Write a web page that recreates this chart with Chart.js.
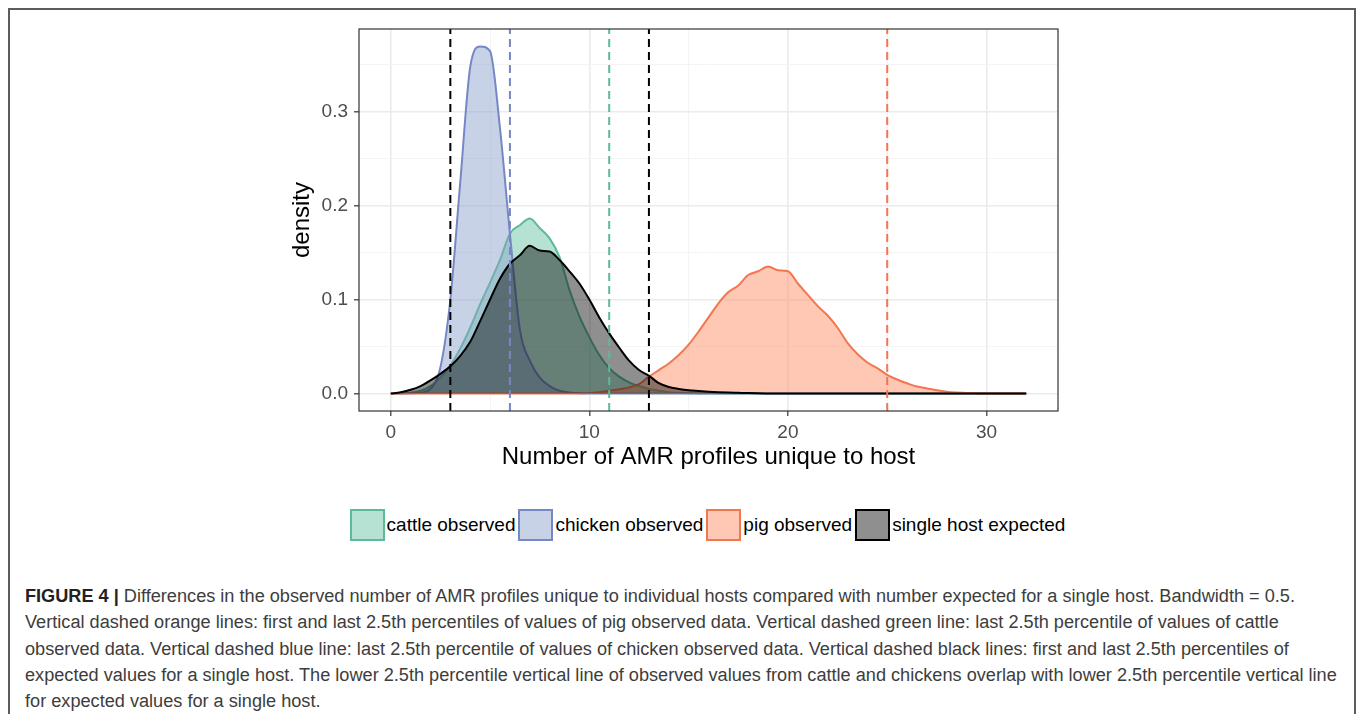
<!DOCTYPE html>
<html>
<head>
<meta charset="utf-8">
<title>AMR profiles density</title>
<script src="https://cdn.jsdelivr.net/npm/chart.js@4.4.1/dist/chart.umd.min.js"></script>
<style>
  html, body { margin: 0; padding: 0; background: #fff; }
  body { width: 1360px; height: 714px; overflow: hidden; position: relative; font-family: "Liberation Sans", Arial, sans-serif; }
  #frame { position: absolute; left: 8px; top: 8px; width: 1344px; height: 760px; border: 2px solid #5c5c5c; border-bottom: none; }
  #plot { position: absolute; left: 0; top: 0; }
  #legend { position: absolute; top: 509px; left: 58px; width: 1302px; display: flex; justify-content: center; align-items: center; }
  .item { display: flex; align-items: center; }
  .swatch { width: 35px; height: 32px; box-sizing: border-box; border: 2px solid; }
  .label { font-size: 19px; color: #000; margin: 0 3px 0 2px; }
  #caption { position: absolute; left: 25px; top: 583px; color: #3d3d3d; font-size: 18px; line-height: 26.25px; white-space: nowrap; transform-origin: 0 0; }
  #caption div { width: max-content; }
  #caption b { color: #222; }
</style>
</head>
<body>
<div id="frame"></div>
<canvas id="plot" width="1360" height="490"></canvas>
<div id="legend"></div>
<div id="caption">
  <div id="cap1"><b>FIGURE 4 |</b> Differences in the observed number of AMR profiles unique to individual hosts compared with number expected for a single host. Bandwidth = 0.5.</div>
  <div>Vertical dashed orange lines: first and last 2.5th percentiles of values of pig observed data. Vertical dashed green line: last 2.5th percentile of values of cattle</div>
  <div>observed data. Vertical dashed blue line: last 2.5th percentile of values of chicken observed data. Vertical dashed black lines: first and last 2.5th percentiles of</div>
  <div>expected values for a single host. The lower 2.5th percentile vertical line of observed values from cattle and chickens overlap with lower 2.5th percentile vertical line</div>
  <div>for expected values for a single host.</div>
</div>
<script>
// sample positions of the density estimates (number of profiles)
const xGrid = Array.from({ length: 65 }, (_, i) => i / 2);

const cattle = [
  0, 0.0003, 0.001, 0.003, 0.008, 0.017, 0.03, 0.048, 0.07, 0.095,
  0.118, 0.142, 0.17, 0.179, 0.186, 0.176, 0.165, 0.145, 0.11, 0.082,
  0.06, 0.041, 0.027, 0.018, 0.012, 0.008, 0.005, 0.003, 0.0015, 0.0008,
  0.0004, 0.0002, 0, 0, 0, 0, 0, 0, 0, 0,
  0, 0, 0, 0, 0, 0, 0, 0, 0, 0,
  0, 0, 0, 0, 0, 0, 0, 0, 0, 0,
  0, 0, 0, 0, 0
];
const chicken = [
  0, 0, 0.0003, 0.001, 0.005, 0.028, 0.1, 0.225, 0.347, 0.369,
  0.364, 0.282, 0.17, 0.068, 0.035, 0.017, 0.008, 0.003, 0.0012, 0.0004,
  0.0001, 0, 0, 0, 0, 0, 0, 0, 0, 0,
  0, 0, 0, 0, 0, 0, 0, 0, 0, 0,
  0, 0, 0, 0, 0, 0, 0, 0, 0, 0,
  0, 0, 0, 0, 0, 0, 0, 0, 0, 0,
  0, 0, 0, 0, 0
];
const pig = [
  0, 0, 0, 0, 0, 0, 0, 0, 0, 0,
  0, 0, 0, 0, 0, 0, 0, 0, 0, 0,
  0.0005, 0.0015, 0.003, 0.0045, 0.0065, 0.01, 0.018, 0.025, 0.032, 0.041,
  0.052, 0.066, 0.081, 0.096, 0.108, 0.115, 0.126, 0.13, 0.135, 0.131,
  0.13, 0.117, 0.105, 0.093, 0.083, 0.07, 0.054, 0.042, 0.033, 0.027,
  0.02, 0.015, 0.011, 0.0075, 0.0055, 0.0035, 0.002, 0.0011, 0.0005, 0.0002,
  0, 0, 0, 0, 0
];
const singleHost = [
  0, 0.0015, 0.004, 0.008, 0.014, 0.021, 0.029, 0.04, 0.055, 0.077,
  0.1, 0.122, 0.138, 0.147, 0.157, 0.152, 0.151, 0.142, 0.13, 0.117,
  0.1, 0.081, 0.064, 0.049, 0.035, 0.025, 0.019, 0.011, 0.007, 0.005,
  0.0035, 0.0027, 0.002, 0.0015, 0.0011, 0.0008, 0.0005, 0.0003, 0.0002, 0.0001,
  0, 0, 0, 0, 0, 0, 0, 0, 0, 0,
  0, 0, 0, 0, 0, 0, 0, 0, 0, 0,
  0, 0, 0, 0, 0
];

// percentile cut-offs drawn as dashed vertical lines
const cutCattle = [11];
const cutChicken = [6];
const cutPig = [25];
const cutSingle = [3, 13];

const xTickLabels = [0, 10, 20, 30];
const xMinorTicks = [5, 15, 25];
const yTickLabels = [0, 0.1, 0.2, 0.3];
const yMinorTicks = [0.05, 0.15, 0.25, 0.35];

const xMin = -1.6, xMax = 33.6;
const yMin = -0.0185, yMax = 0.3875;

const series = [
  { label: 'cattle observed', values: cattle, line: '#5cba95', fill: 'rgba(102,194,165,0.48)', cuts: cutCattle },
  { label: 'chicken observed', values: chicken, line: '#7587c4', fill: 'rgba(141,160,203,0.48)', cuts: cutChicken },
  { label: 'pig observed', values: pig, line: '#f4764f', fill: 'rgba(252,141,98,0.48)', cuts: cutPig },
  { label: 'single host expected', values: singleHost, line: '#000000', fill: 'rgba(0,0,0,0.44)', cuts: cutSingle }
];

const datasets = [];
series.forEach((s, i) => {
  datasets.push({
    label: s.label,
    data: xGrid.map((x, j) => ({ x: x, y: s.values[j] })),
    borderColor: s.line,
    backgroundColor: s.fill,
    borderWidth: 2,
    pointRadius: 0,
    fill: 'origin',
    cubicInterpolationMode: 'monotone',
    order: 4 - i
  });
  s.cuts.forEach(c => {
    datasets.push({
      label: s.label + ' cut',
      data: [{ x: c, y: yMin }, { x: c, y: yMax }],
      borderColor: s.line,
      borderWidth: 2,
      borderDash: [8, 5],
      pointRadius: 0,
      fill: false,
      order: 0
    });
  });
});

const isIn = (arr, v) => arr.some(t => Math.abs(t - v) < 1e-9);

function gridOpts(major) {
  return {
    color: ctx => isIn(major, ctx.tick.value) ? '#ebebeb' : '#f3f3f3',
    lineWidth: ctx => isIn(major, ctx.tick.value) ? 1.6 : 0.9,
    tickColor: ctx => isIn(major, ctx.tick.value) ? '#333333' : 'rgba(0,0,0,0)',
    tickWidth: 1.2,
    tickLength: 5
  };
}

// panel border on all four sides
const panelBorder = {
  id: 'panelBorder',
  afterDraw(chart) {
    const { ctx, chartArea: a } = chart;
    ctx.save();
    ctx.strokeStyle = '#333333';
    ctx.lineWidth = 1.2;
    ctx.strokeRect(a.left, a.top, a.right - a.left, a.bottom - a.top);
    ctx.restore();
  }
};

Chart.defaults.font.family = '"Liberation Sans", Arial, sans-serif';

const chart = new Chart(document.getElementById('plot'), {
  type: 'line',
  data: { datasets: datasets },
  options: {
    responsive: false,
    animation: false,
    devicePixelRatio: 1,
    layout: { padding: { left: 288, right: 302, top: 29, bottom: 18 } },
    plugins: { legend: { display: false }, tooltip: { enabled: false } },
    scales: {
      x: {
        type: 'linear',
        min: xMin,
        max: xMax,
        afterFit: s => { s.height = 61; },
        afterBuildTicks: s => { s.ticks = xTickLabels.concat(xMinorTicks).sort((a, b) => a - b).map(v => ({ value: v })); },
        ticks: {
          autoSkip: false,
          maxRotation: 0,
          padding: 5,
          color: '#4d4d4d',
          font: { size: 19 },
          callback: v => isIn(xTickLabels, v) ? String(v) : ''
        },
        grid: gridOpts(xTickLabels),
        border: { display: false },
        title: { display: true, text: 'Number of AMR profiles unique to host', color: '#000', font: { size: 24 }, padding: { top: 0, bottom: 0 } }
      },
      y: {
        type: 'linear',
        min: yMin,
        max: yMax,
        afterFit: s => { s.width = 71; },
        afterBuildTicks: s => { s.ticks = yTickLabels.concat(yMinorTicks).sort((a, b) => a - b).map(v => ({ value: v })); },
        ticks: {
          autoSkip: false,
          padding: 6,
          color: '#4d4d4d',
          font: { size: 19 },
          callback: v => isIn(yTickLabels, v) ? v.toFixed(1) : ''
        },
        grid: gridOpts(yTickLabels),
        border: { display: false },
        title: { display: true, text: 'density', color: '#000', font: { size: 24 }, padding: { top: 0, bottom: 0 } }
      }
    }
  },
  plugins: [panelBorder]
});

// legend: one filled key per density
const legend = document.getElementById('legend');
series.forEach(s => {
  const item = document.createElement('div');
  item.className = 'item';
  const sw = document.createElement('div');
  sw.className = 'swatch';
  sw.style.borderColor = s.line;
  sw.style.background = s.fill;
  const lab = document.createElement('span');
  lab.className = 'label';
  lab.textContent = s.label;
  item.appendChild(sw);
  item.appendChild(lab);
  legend.appendChild(item);
});

// stretch the caption so the first line spans the text column
const caption = document.getElementById('caption');
const w = document.getElementById('cap1').getBoundingClientRect().width;
caption.style.transform = 'scaleX(' + (1270 / w) + ')';
</script>
</body>
</html>
